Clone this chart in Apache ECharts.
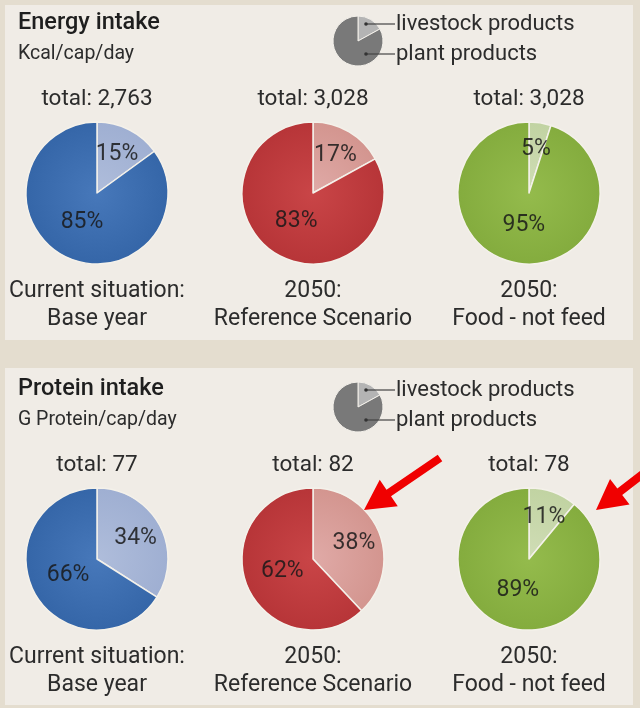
<!DOCTYPE html>
<html>
<head>
<meta charset="utf-8">
<script src="https://cdn.jsdelivr.net/npm/echarts@6/dist/echarts.min.js"></script>
<style>
  html, body { margin: 0; padding: 0; background: #e4ddcf; }
  #chart { width: 640px; height: 708px; }
</style>
</head>
<body>
<div id="chart"></div>
<script>
// ---- data ----
const panelTitles = ['Energy intake', 'Protein intake'];
const panelUnits = ['Kcal/cap/day', 'G Protein/cap/day'];
const scenarioLines1 = ['Current situation:', '2050:', '2050:'];
const scenarioLines2 = ['Base year', 'Reference Scenario', 'Food - not feed'];
const sliceNames = ['livestock products', 'plant products'];

const energyTotals = [2763, 3028, 3028];
const energyLivestock = [15, 17, 5];
const energyPlant = [85, 83, 95];

const proteinTotals = [77, 82, 78];
const proteinLivestock = [34, 38, 11];
const proteinPlant = [66, 62, 89];

const legendSample = [17, 83];

// ---- styling / layout ----
const FONT = 'Roboto';
const TEXT = '#2c2c2c';
const scenarioColors = [
  { plant: ['#4778ba', '#3566a8'], livestock: ['#afbddb', '#9fafd2'] },
  { plant: ['#c94547', '#b73538'], livestock: ['#e0aaa7', '#d3958f'] },
  { plant: ['#94bb4c', '#84ac3e'], livestock: ['#d0ddb6', '#c1d3a2'] }
];
const colX = [97, 313, 529];
const R = 71;
const panelTop = [0, 366];

function radial(cx, cy, stops) {
  return {
    type: 'radial', x: cx, y: cy, r: R, global: true,
    colorStops: [{ offset: 0, color: stops[0] }, { offset: 1, color: stops[1] }]
  };
}

const series = [];
const graphic = [];

// panel backgrounds
graphic.push({ type: 'rect', shape: { x: 5, y: 5, width: 628, height: 335 }, style: { fill: '#f0ece6' }, z: -10 });
graphic.push({ type: 'rect', shape: { x: 5, y: 368, width: 628, height: 337 }, style: { fill: '#f0ece6' }, z: -10 });

const panels = [
  { totals: energyTotals, livestock: energyLivestock, plant: energyPlant },
  { totals: proteinTotals, livestock: proteinLivestock, plant: proteinPlant }
];

panels.forEach((p, pi) => {
  const top = panelTop[pi];
  const cy = top + 193;

  // header
  graphic.push({ type: 'text', x: 18, y: top + 23,
    style: { text: panelTitles[pi], font: '500 23.5px ' + FONT, fill: '#1e1e1e', verticalAlign: 'middle' } });
  graphic.push({ type: 'text', x: 18, y: top + 54,
    style: { text: panelUnits[pi], font: '19.5px ' + FONT, fill: TEXT, verticalAlign: 'middle' } });

  // legend sample pie
  const lx = 358, ly = top + 41;
  series.push({
    type: 'pie', silent: true, center: [lx, ly], radius: [0, 25],
    startAngle: 90, clockwise: true, label: { show: false }, labelLine: { show: false },
    itemStyle: { borderColor: '#f3f0ea', borderWidth: 1 },
    data: [
      { value: legendSample[0], name: sliceNames[0], itemStyle: { color: '#b4b4b4' } },
      { value: legendSample[1], name: sliceNames[1], itemStyle: { color: '#797979' } }
    ]
  });
  const legY = [top + 24, top + 54];
  legY.forEach((y, i) => {
    graphic.push({ type: 'line', shape: { x1: 366, y1: y, x2: 395, y2: y },
      style: { stroke: '#444', lineWidth: 1.2 }, z: 20 });
    graphic.push({ type: 'circle', shape: { cx: 366, cy: y, r: 1.8 },
      style: { fill: '#333' }, z: 20 });
    graphic.push({ type: 'text', x: 396, y: y,
      style: { text: sliceNames[i], font: '22px ' + FONT, fill: TEXT, verticalAlign: 'middle' }, z: 20 });
  });

  for (let k = 0; k < 3; k++) {
    const cx = colX[k];
    const c = scenarioColors[k];
    const center = [cx, cy];
    const data = [
      { value: p.livestock[k], name: sliceNames[0] },
      { value: p.plant[k], name: sliceNames[1] }
    ];

    // pie slices
    series.push({
      type: 'pie', silent: true, center, radius: [0, R],
      startAngle: 90, clockwise: true, avoidLabelOverlap: false,
      label: { show: false }, labelLine: { show: false },
      itemStyle: { borderColor: '#f4f1ea', borderWidth: 1.5 },
      data: [
        Object.assign({}, data[0], { itemStyle: { color: radial(cx, cy, c.livestock) } }),
        Object.assign({}, data[1], { itemStyle: { color: radial(cx, cy, c.plant) } })
      ]
    });

    // percentage labels: the small share sits further out, the large share nearer the centre
    const labelCommon = { position: 'inside', formatter: '{c}%', fontFamily: FONT, fontSize: 23, color: 'rgba(25,25,25,0.85)' };
    series.push({
      type: 'pie', silent: true, center, radius: [0, 82], startAngle: 90, clockwise: true,
      avoidLabelOverlap: false, labelLine: { show: false }, z: 5,
      itemStyle: { color: 'rgba(0,0,0,0)' },
      data: [
        Object.assign({}, data[0], { label: Object.assign({ show: true }, labelCommon) }),
        Object.assign({}, data[1], { label: { show: false } })
      ]
    });
    series.push({
      type: 'pie', silent: true, center, radius: [0, 60], startAngle: 90, clockwise: true,
      avoidLabelOverlap: false, labelLine: { show: false }, z: 5,
      itemStyle: { color: 'rgba(0,0,0,0)' },
      data: [
        Object.assign({}, data[0], { label: { show: false } }),
        Object.assign({}, data[1], { label: Object.assign({ show: true }, labelCommon) })
      ]
    });

    // total above, scenario caption below
    graphic.push({ type: 'text', x: cx, y: top + 99,
      style: { text: 'total: ' + p.totals[k].toLocaleString('en-US'), font: '22.5px ' + FONT,
        fill: TEXT, align: 'center', verticalAlign: 'middle' } });
    graphic.push({ type: 'text', x: cx, y: top + 291,
      style: { text: scenarioLines1[k], font: '23px ' + FONT, fill: TEXT, align: 'center', verticalAlign: 'middle' } });
    graphic.push({ type: 'text', x: cx, y: top + 319,
      style: { text: scenarioLines2[k], font: '23px ' + FONT, fill: TEXT, align: 'center', verticalAlign: 'middle' } });
  }
});

// red call-out arrows pointing at the livestock share of the 2050 protein pies
function arrow(tail, tip, shaftW, headL, headW) {
  const dx = tip[0] - tail[0], dy = tip[1] - tail[1];
  const len = Math.hypot(dx, dy);
  const ux = dx / len, uy = dy / len, nx = -uy, ny = ux;
  const bx = tip[0] - ux * headL, by = tip[1] - uy * headL;
  return [
    [tail[0] + nx * shaftW / 2, tail[1] + ny * shaftW / 2],
    [bx + nx * shaftW / 2, by + ny * shaftW / 2],
    [bx + nx * headW / 2, by + ny * headW / 2],
    tip,
    [bx - nx * headW / 2, by - ny * headW / 2],
    [bx - nx * shaftW / 2, by - ny * shaftW / 2],
    [tail[0] - nx * shaftW / 2, tail[1] - ny * shaftW / 2]
  ];
}
graphic.push({ type: 'polygon', z: 30, shape: { points: arrow([440, 458], [364, 510], 8, 30, 32) }, style: { fill: '#f00000' } });
graphic.push({ type: 'polygon', z: 30, shape: { points: arrow([648, 470], [596, 510], 8, 30, 32) }, style: { fill: '#f00000' } });

const chart = echarts.init(document.getElementById('chart'), null, { renderer: 'canvas' });
chart.setOption({
  backgroundColor: '#e4ddcf',
  animation: false,
  series,
  graphic
});
</script>
</body>
</html>
